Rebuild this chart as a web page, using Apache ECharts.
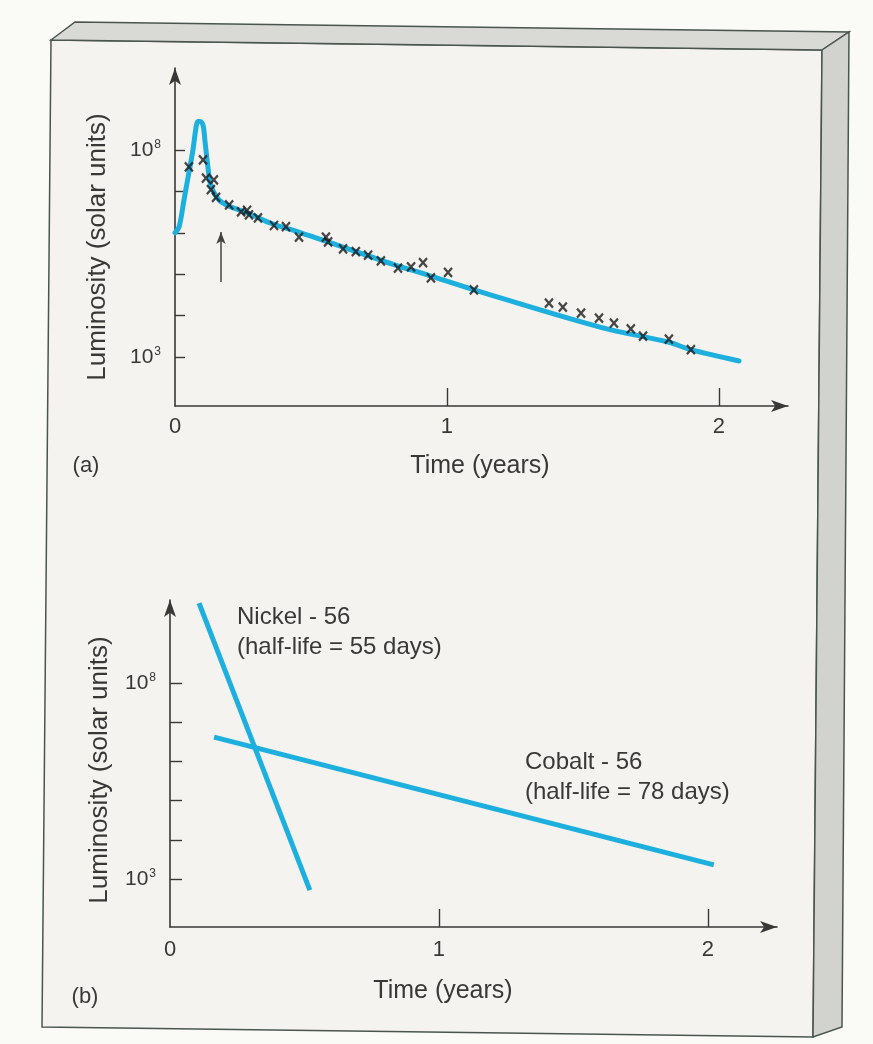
<!DOCTYPE html>
<html><head><meta charset="utf-8">
<script src="https://cdn.jsdelivr.net/npm/echarts@6/dist/echarts.min.js"></script>
<style>html,body{margin:0;padding:0;background:#fafaf7}#c{width:873px;height:1044px}</style>
</head><body><div id="c"></div>
<script>
// ---------- Panel (a): observed light curve ----------
const obsTimeA = [0.051,0.103,0.114,0.143,0.132,0.151,0.199,0.243,0.265,0.272,0.305,0.364,0.408,0.456,0.555,0.563,0.618,0.665,0.710,0.757,0.820,0.868,0.912,0.941,1.004,1.099,1.375,1.426,1.493,1.559,1.614,1.676,1.721,1.816,1.897];
const obsLumA  = [3.9e7,5.8e7,2.1e7,1.9e7,1.1e7,7.2e6,4.7e6,3.2e6,3.5e6,2.7e6,2.3e6,1.5e6,1.4e6,7.9e5,7.9e5,6.0e5,4.1e5,3.5e5,2.9e5,2.1e5,1.4e5,1.5e5,1.9e5,8.1e4,1.1e5,4.2e4,2.0e4,1.6e4,1.15e4,8.7e3,6.6e3,4.8e3,3.2e3,2.7e3,1.5e3];
const curveTimeA = [0,0.015,0.033,0.051,0.066,0.077,0.084,0.092,0.103,0.110,0.121,0.132,0.162,0.206,0.268,0.353,0.463,0.563,0.684,0.805,0.930,1.099,1.566,1.813,1.897,2.074];
const curveLumA  = [1.0e6,1.4e6,6.2e6,2.8e7,1.0e8,3.4e8,4.9e8,4.9e8,4.0e8,1.7e8,3.9e7,1.4e7,6.2e6,4.2e6,3.0e6,1.7e6,1.0e6,6.0e5,3.2e5,1.7e5,9.5e4,4.2e4,5.2e3,2.3e3,1.5e3,8.0e2];
const arrowTimeA = [0.169, 0.169];
const arrowLumA  = [6.5e4, 1.05e6];
// ---------- Panel (b): radioactive decay lines ----------
const nickelTime = [0.108, 0.520];
const nickelLum  = [1.1e10, 5.2e2];
const cobaltTime = [0.164, 2.022];
const cobaltLum  = [4.2e6, 2.3e3];
// ---------- ticks and texts ----------
const xTickValues  = [1, 2];
const xLabelValues = [0, 1, 2];
const yTickValues  = [1e3, 1e4, 1e5, 1e6, 1e7, 1e8];
const yLabelValues = [1e3, 1e8];
const xTitle = 'Time (years)';
const yTitle = 'Luminosity (solar units)';
const panelLabels = ['(a)', '(b)'];
const nickelText = ['Nickel - 56', '(half-life = 55 days)'];
const cobaltText = ['Cobalt - 56', '(half-life = 78 days)'];

const FONT = '"Liberation Sans", Arial, sans-serif';
const INK = '#383838';
const BLUE = '#1db0df';
const EDGE = '#4a5550';

function zip(a, b) { return a.map((v, i) => [v, b[i]]); }

function xAxisCfg(gridIndex, max, labelMargin) {
  return {
    type: 'value', gridIndex, min: 0, max,
    axisLine: {show: true, onZero: false, symbol: ['none', 'arrow'], symbolSize: [9, 17],
      lineStyle: {color: INK, width: 1.6}},
    axisTick: {show: true, inside: true, length: 18, customValues: xTickValues,
      lineStyle: {color: INK, width: 1.4}},
    axisLabel: {show: true, customValues: xLabelValues, margin: labelMargin, color: INK,
      fontSize: 22, fontFamily: FONT},
    splitLine: {show: false}
  };
}
function yAxisCfg(gridIndex, min, max, tickLen) {
  return {
    type: 'log', logBase: 10, gridIndex, min, max,
    axisLine: {show: true, onZero: false, symbol: ['none', 'arrow'], symbolSize: [9, 17],
      lineStyle: {color: INK, width: 1.6}},
    axisTick: {show: true, inside: true, length: tickLen, customValues: yTickValues,
      lineStyle: {color: INK, width: 1.4}},
    axisLabel: {show: true, customValues: yLabelValues, margin: 14,
      formatter: v => '{b|10}{s|' + Math.round(Math.log10(v)) + '}',
      rich: {
        b: {fontSize: 21, color: INK, fontFamily: FONT},
        s: {fontSize: 12, color: INK, fontFamily: FONT, verticalAlign: 'top', padding: [0, 0, 10, 1]}
      }},
    splitLine: {show: false}
  };
}
function txt(x, y, text, size, align, extra) {
  return Object.assign({type: 'text', x, y, z: 50,
    style: {text, fontSize: size, fontFamily: FONT, fill: INK, align: align || 'center', verticalAlign: 'middle'}}, extra || {});
}

const chart = echarts.init(document.getElementById('c'), null, {renderer: 'canvas'});
chart.setOption({
  animation: false,
  backgroundColor: '#fafaf7',
  grid: [
    {left: 175, right: 85, top: 68, bottom: 638},
    {left: 170, right: 96, top: 600, bottom: 117}
  ],
  xAxis: [xAxisCfg(0, 2.254, 10), xAxisCfg(1, 2.257, 12)],
  yAxis: [yAxisCfg(0, 65.5, 9.55e9, 10), yAxisCfg(1, 59.7, 1.32e10, 12)],
  graphic: [
    {type: 'polygon', z: -10, shape: {points: [[51,40],[822,50],[813,1037],[42,1027]]},
      style: {fill: '#f4f3ef', stroke: EDGE, lineWidth: 1.5}},
    {type: 'polygon', z: -10, shape: {points: [[51,40],[75,22],[849,32],[822,50]]},
      style: {fill: '#d9d9d6', stroke: EDGE, lineWidth: 1.5}},
    {type: 'polygon', z: -10, shape: {points: [[822,50],[849,32],[842,1027],[813,1037]]},
      style: {fill: '#d2d2cf', stroke: EDGE, lineWidth: 1.5}},
    txt(86, 466, panelLabels[0], 22),
    txt(85, 997, panelLabels[1], 22),
    txt(480, 466, xTitle, 25),
    txt(443, 991, xTitle, 25),
    txt(98, 247, yTitle, 26, 'center', {rotation: Math.PI / 2}),
    txt(100, 770, yTitle, 26, 'center', {rotation: Math.PI / 2}),
    txt(237, 617, nickelText[0], 24, 'left'),
    txt(237, 647, nickelText[1], 24, 'left'),
    txt(525, 762, cobaltText[0], 24, 'left'),
    txt(525, 792, cobaltText[1], 24, 'left')
  ],
  series: [
    {type: 'line', xAxisIndex: 0, yAxisIndex: 0, data: zip(curveTimeA, curveLumA),
      smooth: 0.35, showSymbol: false, lineStyle: {color: BLUE, width: 5, cap: 'round', join: 'round'}, z: 3},
    {type: 'scatter', xAxisIndex: 0, yAxisIndex: 0, data: zip(obsTimeA, obsLumA),
      symbol: 'path://M0,0L10,12M10,0L0,12', symbolSize: [8, 9],
      itemStyle: {color: 'rgba(0,0,0,0)', borderColor: '#1a1a1a', borderWidth: 2.3}, z: 5,
      markLine: {silent: true, symbol: ['none', 'arrow'], symbolSize: [7, 12],
        lineStyle: {color: '#444', width: 1.5, type: 'solid'}, label: {show: false},
        data: [[{coord: [arrowTimeA[0], arrowLumA[0]]}, {coord: [arrowTimeA[1], arrowLumA[1]]}]]}},
    {type: 'line', xAxisIndex: 1, yAxisIndex: 1, data: zip(nickelTime, nickelLum),
      showSymbol: false, lineStyle: {color: BLUE, width: 5}, z: 3},
    {type: 'line', xAxisIndex: 1, yAxisIndex: 1, data: zip(cobaltTime, cobaltLum),
      showSymbol: false, lineStyle: {color: BLUE, width: 5}, z: 3}
  ]
});
</script>
</body></html>
